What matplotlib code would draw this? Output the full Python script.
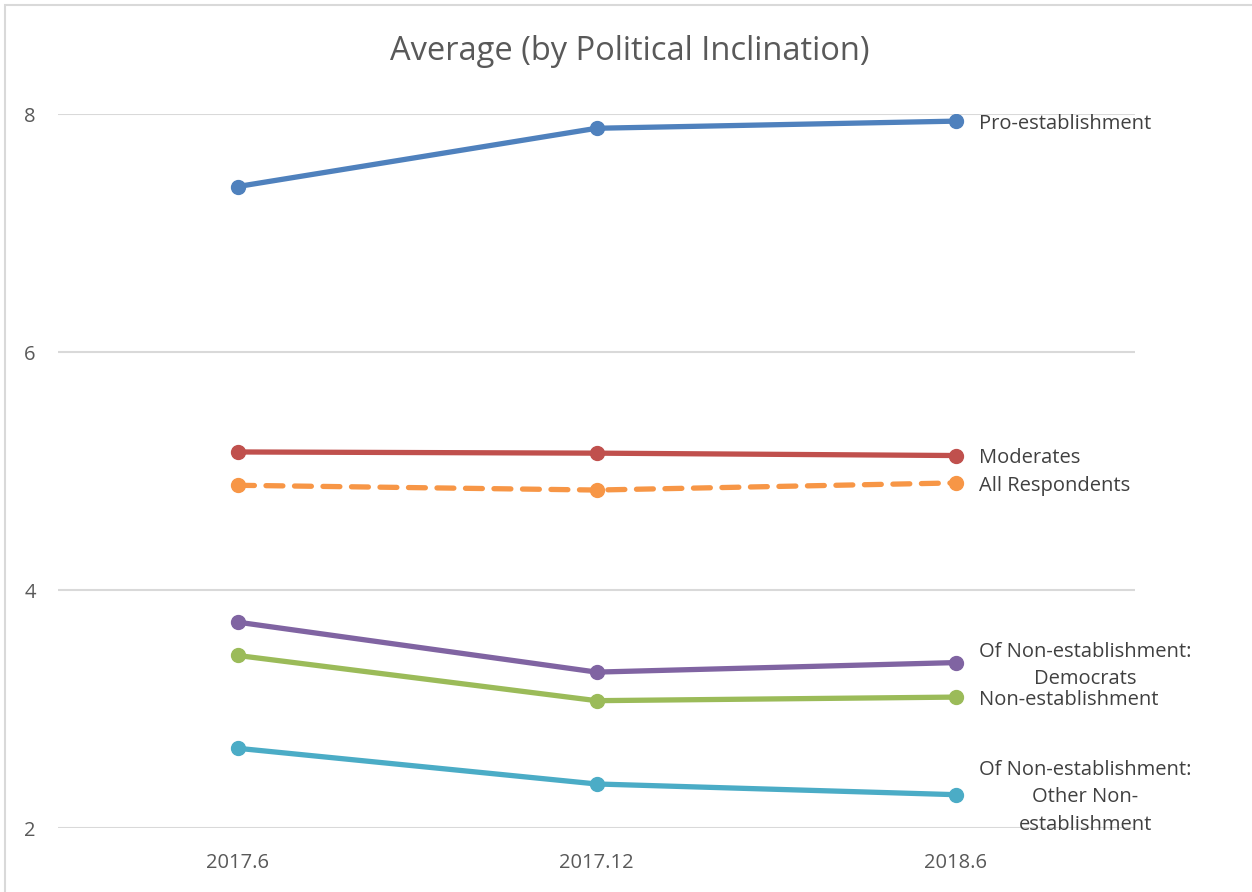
import matplotlib.pyplot as plt
from matplotlib.patches import Rectangle

# survey waves and averages per group
periods = ["2017.6", "2017.12", "2018.6"]
pro_establishment = [7.39, 7.88, 7.94]
moderates = [5.16, 5.15, 5.13]
all_respondents = [4.88, 4.84, 4.90]
non_est_democrats = [3.73, 3.31, 3.39]
non_establishment = [3.45, 3.07, 3.10]
non_est_other = [2.67, 2.37, 2.28]

series = [
    ("Pro-establishment", pro_establishment, "#4F81BD", "-"),
    ("Moderates", moderates, "#C0504D", "-"),
    ("All Respondents", all_respondents, "#F79646", "--"),
    ("Of Non-establishment:\nDemocrats", non_est_democrats, "#8064A2", "-"),
    ("Non-establishment", non_establishment, "#9BBB59", "-"),
    ("Of Non-establishment:\nOther Non-\nestablishment", non_est_other, "#4BACC6", "-"),
]

plt.rcParams['font.family'] = ['Open Sans', 'DejaVu Sans']

W, H = 1252, 892
fig = plt.figure(figsize=(W / 100, H / 100), dpi=100)
ax = fig.add_axes([58 / W, (H - 828) / H, 1077 / W, (828 - 114) / H])

# outer chart border
fig.patches.append(Rectangle((5 / W, -0.1), 1.2, (H - 5) / H + 0.1,
                             transform=fig.transFigure, fill=False,
                             edgecolor="#D9D9D9", linewidth=1.5))

x = list(range(len(periods)))
for name, vals, color, ls in series:
    line, = ax.plot(x, vals, color=color, linewidth=3.8, marker="o", markersize=10,
                    solid_capstyle="round", zorder=3)
    if ls == "--":
        line.set_dashes((3.2, 2.2))
        line.set_dash_capstyle("round")
    ax.annotate(name, (x[-1], vals[-1]), xytext=(17, -2), textcoords="offset points",
                ha="left", va="center", multialignment="center",
                fontsize=14.5, color="#404040", linespacing=1.5)

ax.set_xlim(-0.5, 2.5)
ax.set_ylim(2, 8)
ax.set_yticks([2, 4, 6, 8])
ax.set_xticks(x)
ax.set_xticklabels(periods)
ax.grid(axis="y", color="#D9D9D9", linewidth=1.5)
ax.set_axisbelow(True)
for s in ax.spines.values():
    s.set_visible(False)
ax.tick_params(length=0, labelsize=14.5, labelcolor="#595959")
ax.tick_params(axis="y", pad=16)
ax.tick_params(axis="x", pad=18)

fig.text(630 / W, 1 - 52 / H, "Average (by Political Inclination)", ha="center", va="center",
         fontsize=23.5, color="#595959")

fig.savefig("out.png", dpi=100)
